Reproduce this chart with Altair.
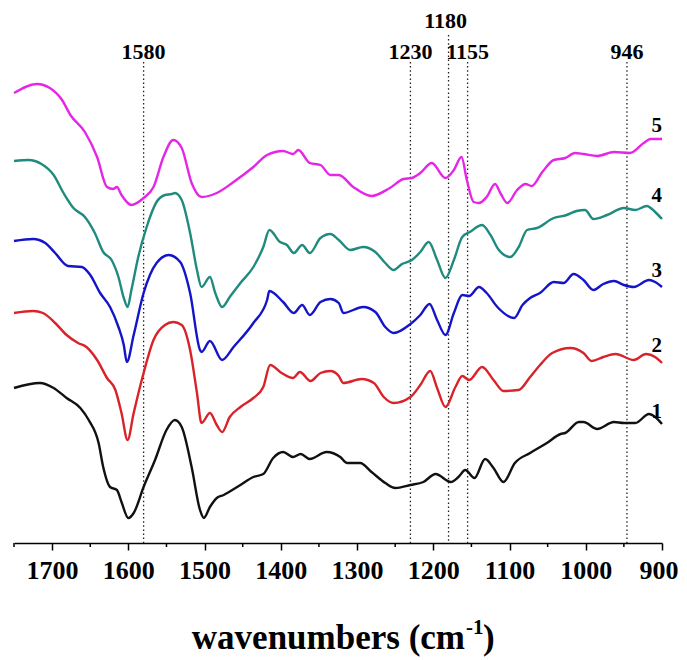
import altair as alt
import pandas as pd

# ---- data (wavenumber, signal in arbitrary units) ----
w1 = [1750, 1716, 1698, 1681, 1663, 1652, 1639, 1633, 1624, 1615, 1609, 1600, 1593, 1580, 1565, 1550, 1539, 1530, 1517, 1506, 1501, 1493, 1484, 1475, 1453, 1436, 1423, 1410, 1397, 1384, 1374, 1362, 1340, 1322, 1313, 1296, 1281, 1263, 1250, 1230, 1213, 1197, 1177, 1167, 1158, 1146, 1132, 1121, 1108, 1093, 1073, 1051, 1033, 1027, 1009, 1003, 985, 963, 950, 935, 917, 909, 900]
s1 = [155, 160, 155, 145, 135, 123, 100, 76, 56, 53, 41, 25, 30, 56, 83, 113, 123, 116, 76, 33, 25, 36, 45, 48, 58, 66, 69, 85, 91, 86, 89, 84, 91, 86, 80, 80, 71, 60, 55, 58, 61, 69, 61, 66, 73, 65, 84, 75, 61, 80, 90, 100, 109, 110, 121, 121, 114, 121, 120, 120, 129, 126, 119]

w2 = [1750, 1725, 1712, 1696, 1681, 1666, 1655, 1641, 1628, 1617, 1609, 1601, 1593, 1580, 1567, 1552, 1541, 1530, 1519, 1510, 1504, 1493, 1484, 1477, 1467, 1453, 1436, 1423, 1414, 1399, 1384, 1375, 1361, 1348, 1335, 1324, 1318, 1294, 1278, 1265, 1252, 1230, 1217, 1204, 1195, 1184, 1171, 1162, 1153, 1136, 1121, 1108, 1088, 1073, 1060, 1044, 1020, 1003, 992, 977, 961, 937, 921, 909, 900]
s2 = [230, 232, 230, 220, 208, 200, 196, 183, 165, 153, 130, 103, 130, 170, 203, 218, 221, 218, 193, 150, 120, 130, 118, 111, 126, 136, 145, 156, 178, 170, 165, 171, 162, 170, 172, 167, 160, 164, 160, 146, 140, 146, 158, 172, 155, 136, 156, 167, 163, 176, 163, 152, 153, 166, 178, 190, 195, 190, 182, 186, 189, 183, 189, 186, 180]

w3 = [1750, 1725, 1709, 1696, 1679, 1661, 1650, 1637, 1624, 1613, 1606, 1602, 1593, 1580, 1563, 1547, 1532, 1519, 1506, 1504, 1493, 1477, 1462, 1436, 1418, 1415, 1397, 1383, 1372, 1362, 1348, 1335, 1324, 1318, 1292, 1276, 1263, 1252, 1230, 1217, 1205, 1195, 1184, 1173, 1162, 1153, 1140, 1130, 1116, 1094, 1083, 1073, 1060, 1042, 1029, 1016, 1003, 990, 977, 963, 950, 937, 917, 909, 900]
s3 = [302, 304, 300, 290, 277, 276, 268, 250, 236, 216, 198, 181, 208, 250, 280, 288, 281, 250, 193, 191, 202, 183, 196, 220, 243, 252, 241, 230, 238, 228, 241, 244, 240, 230, 236, 231, 216, 210, 219, 228, 239, 223, 208, 230, 248, 247, 256, 250, 236, 225, 238, 245, 250, 261, 260, 269, 263, 253, 259, 262, 258, 256, 263, 261, 256]

w4 = [1750, 1731, 1714, 1698, 1685, 1672, 1657, 1644, 1633, 1622, 1613, 1606, 1601, 1596, 1587, 1576, 1563, 1552, 1543, 1539, 1530, 1519, 1510, 1504, 1493, 1486, 1477, 1467, 1453, 1436, 1423, 1415, 1401, 1392, 1383, 1372, 1362, 1348, 1335, 1324, 1309, 1292, 1276, 1263, 1252, 1241, 1228, 1217, 1206, 1195, 1184, 1173, 1162, 1152, 1136, 1125, 1114, 1099, 1088, 1077, 1064, 1042, 1025, 1012, 1001, 990, 972, 950, 935, 920, 909, 900]
s4 = [382, 383, 379, 368, 350, 335, 326, 310, 291, 283, 266, 245, 236, 253, 286, 316, 341, 348, 349, 350, 343, 310, 273, 256, 266, 250, 236, 246, 260, 276, 296, 313, 301, 298, 290, 298, 290, 305, 309, 303, 293, 296, 291, 280, 273, 279, 283, 291, 301, 283, 265, 283, 306, 311, 318, 308, 293, 286, 296, 313, 315, 325, 328, 332, 333, 324, 328, 335, 333, 337, 331, 324]

w5 = [1750, 1720, 1703, 1687, 1676, 1657, 1641, 1628, 1620, 1615, 1609, 1596, 1580, 1567, 1554, 1541, 1530, 1517, 1504, 1484, 1462, 1436, 1418, 1397, 1384, 1377, 1362, 1348, 1335, 1324, 1305, 1281, 1257, 1239, 1228, 1217, 1202, 1184, 1173, 1163, 1156, 1147, 1140, 1130, 1119, 1112, 1103, 1090, 1079, 1071, 1057, 1042, 1027, 1014, 1003, 985, 963, 942, 924, 915, 900]
s5 = [450, 459, 455, 443, 428, 411, 386, 356, 354, 356, 348, 338, 345, 356, 386, 403, 395, 360, 346, 350, 361, 376, 388, 392, 389, 393, 380, 378, 368, 368, 356, 347, 355, 364, 365, 370, 380, 365, 373, 386, 363, 341, 340, 346, 359, 350, 340, 353, 359, 357, 371, 383, 385, 390, 389, 387, 391, 390, 400, 404, 404]

series_names = ["1", "2", "3", "4", "5"]
series_colors = ["#111111", "#d8232a", "#1414c8", "#1f8a7e", "#e626e6"]

# marked bands (dotted guide lines) and their labels
band_pos = [1580, 1230, 1180, 1155, 946]
band_text = ["1580", "1230", "1180", "1155", "946"]
band_row = [0, 0, 1, 0, 0]  # 1 = label raised above the others

# curve number labels
label_w = [907, 907, 907, 907, 907]
label_s = [125, 191, 266, 341, 411]

major_ticks = [1700, 1600, 1500, 1400, 1300, 1200, 1100, 1000, 900]
minor_ticks = [1750, 1650, 1550, 1450, 1350, 1250, 1150, 1050, 950]

# axis title pieces: main text, superscript, closing bracket
title_parts = ["wavenumbers (cm", "-1", ")"]

# ---- build tables ----
rows = []
for name, ws, ss in zip(series_names, [w1, w2, w3, w4, w5], [s1, s2, s3, s4, s5]):
    for i, (w, s) in enumerate(zip(ws, ss)):
        rows.append({"series": name, "w": w, "s": s, "i": i})
df = pd.DataFrame(rows)

bands = pd.DataFrame({"w": band_pos, "text": band_text, "row": band_row})
labels = pd.DataFrame({"w": label_w, "s": label_s, "text": series_names})
minor = pd.DataFrame({"w": minor_ticks})
tparts = pd.DataFrame({"text": title_parts, "k": [0, 1, 2]})

W, H = 648, 535
FONT = "Liberation Serif"

xscale = alt.Scale(domain=[900, 1750], reverse=True, nice=False, zero=False)
yscale = alt.Scale(domain=[0, 535], nice=False, zero=False)

xaxis = alt.Axis(
    values=major_ticks, grid=False, tickSize=7, tickWidth=1.5, tickColor="#000",
    domainColor="#000", domainWidth=1.5, labelFont=FONT, labelFontWeight="bold",
    labelFontSize=26, labelColor="#000", labelPadding=7,
    labelFlush=True, labelFlushOffset=16,
    format="d", title=None,
)

lines = alt.Chart(df).mark_line(strokeWidth=2.4, interpolate="monotone").encode(
    x=alt.X("w:Q", scale=xscale, axis=xaxis),
    y=alt.Y("s:Q", scale=yscale, axis=None),
    color=alt.Color("series:N", scale=alt.Scale(domain=series_names, range=series_colors), legend=None),
    order=alt.Order("i:Q"),
)

dots = dict(color="#222", strokeWidth=1.3, strokeDash=[1.5, 2.6])
rules_low = alt.Chart(bands).transform_filter("datum.row == 0").mark_rule(**dots).encode(
    x=alt.X("w:Q", scale=xscale, axis=xaxis),
    y=alt.value(54), y2=alt.value(H),
)
rules_high = alt.Chart(bands).transform_filter("datum.row == 1").mark_rule(**dots).encode(
    x=alt.X("w:Q", scale=xscale, axis=xaxis),
    y=alt.value(27), y2=alt.value(H),
)

band_lbl_low = alt.Chart(bands).transform_filter("datum.row == 0").mark_text(
    font=FONT, fontWeight="bold", fontSize=22, color="#000", baseline="alphabetic"
).encode(
    x=alt.X("w:Q", scale=xscale, axis=xaxis),
    y=alt.value(51), text="text:N",
)
band_lbl_high = alt.Chart(bands).transform_filter("datum.row == 1").mark_text(
    font=FONT, fontWeight="bold", fontSize=22, color="#000", baseline="alphabetic", dx=-3
).encode(
    x=alt.X("w:Q", scale=xscale, axis=xaxis),
    y=alt.value(20), text="text:N",
)

curve_lbl = alt.Chart(labels).mark_text(
    font=FONT, fontWeight="bold", fontSize=21, color="#000", baseline="alphabetic"
).encode(
    x=alt.X("w:Q", scale=xscale, axis=xaxis),
    y=alt.Y("s:Q", scale=yscale, axis=None),
    text="text:N",
)

minor_ticks_layer = alt.Chart(minor).mark_rule(color="#000", strokeWidth=1.5).encode(
    x=alt.X("w:Q", scale=xscale, axis=xaxis),
    y=alt.value(H), y2=alt.value(H + 4),
)

# axis title drawn as text so that the exponent can be raised
title_main = alt.Chart(tparts).transform_filter("datum.k == 0").mark_text(
    font=FONT, fontWeight="bold", fontSize=35, color="#000", align="right", baseline="alphabetic"
).encode(x=alt.value(451), y=alt.value(641), text="text:N")
title_sup = alt.Chart(tparts).transform_filter("datum.k == 1").mark_text(
    font=FONT, fontWeight="bold", fontSize=21, color="#000", align="left", baseline="alphabetic"
).encode(x=alt.value(452), y=alt.value(626), text="text:N")
title_end = alt.Chart(tparts).transform_filter("datum.k == 2").mark_text(
    font=FONT, fontWeight="bold", fontSize=35, color="#000", align="left", baseline="alphabetic"
).encode(x=alt.value(469), y=alt.value(641), text="text:N")

chart = alt.layer(
    rules_low, rules_high, lines, band_lbl_low, band_lbl_high, curve_lbl,
    minor_ticks_layer, title_main, title_sup, title_end
).properties(
    width=W, height=H,
    background="white",
    autosize=alt.AutoSizeParams(type="none"),
    padding={"left": 6, "top": 0, "right": 17, "bottom": 117},
).configure_view(stroke=None)

chart.save("out.html", embed_options={"renderer": "svg", "actions": False})
